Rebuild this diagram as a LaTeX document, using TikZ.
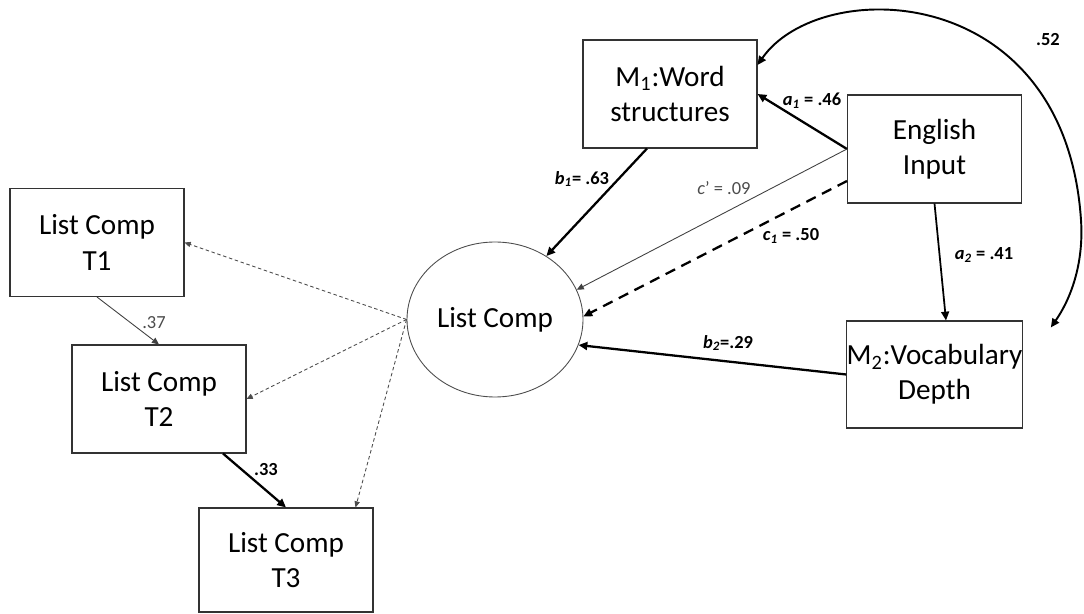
\documentclass[tikz,border=0pt]{standalone}
\usepackage{fontspec}
\setmainfont{Carlito}
\usetikzlibrary{calc}
\usetikzlibrary{shapes}
\usetikzlibrary{arrows.meta}

\tikzset{
  box/.style={draw=black!80, line width=0.6pt, minimum width=3.48cm, minimum height=2.16cm,
    inner sep=0pt, align=center, font=\fontsize{16.6}{20}\selectfont},
  latent/.style={ellipse, draw=black!70, line width=0.5pt, minimum width=3.52cm, minimum height=3.1cm,
    inner sep=0pt, font=\fontsize{16.6}{20}\selectfont},
  strong/.style={-{Triangle[length=5pt,width=4.5pt]}, line width=1.3pt},
  weak/.style={-{Triangle[length=4pt,width=3.5pt]}, line width=0.5pt, black!75},
  dotpath/.style={-{Triangle[length=3.5pt,width=3pt]}, line width=0.5pt, black!70, dash pattern=on 2pt off 1.5pt},
  lab/.style={font=\fontsize{10.5}{12}\selectfont\bfseries},
  thinlab/.style={font=\fontsize{10.5}{12}\selectfont, black!70}
}

\begin{document}
\begin{tikzpicture}
        \useasboundingbox (0,0) rectangle (21.68,-12.28);

        % boxes
        \node[box] (t1) at (1.94,-4.85) {List Comp\\T1};
        \node[box] (t2) at (3.18,-7.98) {List Comp\\T2};
        \node[box, minimum height=2.08cm] (t3) at (5.72,-11.2) {List Comp\\T3};
        \node[box] (m1) at (13.4,-1.88) {M\textsubscript{1}:Word\\structures};
        \node[box] (eng) at (18.69,-2.98) {English\\Input};
        \node[box, minimum height=2.14cm] (m2) at (18.69,-7.49) {M\textsubscript{2}:Vocabulary\\Depth};
        \node[latent] (lc) at (9.9,-6.39) {List Comp};

        % paths
        \draw[strong] (eng.west) -- (m1.east);
        \draw[strong] ([xshift=-0.46cm]m1.south) -- (lc.51);
        \draw[weak] (eng.west) -- (lc.20);
        \draw[strong, dashed, dash pattern=on 6pt off 4pt] ([yshift=-0.64cm]eng.west) -- (lc.2);
        \draw[strong, line width=1pt] (eng.south) -- ([xshift=0.23cm]m2.north);
        \draw[strong] (m2.west) -- (lc.-17);
        \draw[{Triangle[length=5pt,width=4.5pt]}-{Triangle[length=5pt,width=4.5pt]}, line width=1.1pt]
          ([yshift=0.58cm]m1.east) .. controls (16.4,0.5) and (21.3,0.4) .. (21.62,-4.4)
          .. controls (21.68,-5.3) and (21.4,-6.0) .. ([shift={(0.56,-0.14)}]m2.north east);

        \draw[dotpath] (lc.west) -- (t1.east);
        \draw[dotpath] (lc.west) -- (t2.east);
        \draw[dotpath] (lc.west) -- ([xshift=-0.36cm]t3.north east);
        \draw[weak] (t1.south) -- (t2.north);
        \draw[strong] ([xshift=1.28cm]t2.south) -- (t3.north);

        % labels
        \node[lab] (la1) at (16.24,-2.02) {\textit{a\textsubscript{1}} = .46};
        \node[lab] (lb1) at (11.64,-3.58) {\textit{b\textsubscript{1}}= .63};
        \node[thinlab] (lcp) at (14.48,-3.76) {\textit{c}' = .09};
        \node[lab] (lc1) at (15.82,-4.72) {\textit{c\textsubscript{1}} = .50};
        \node[lab] (la2) at (19.68,-5.1) {\textit{a\textsubscript{2}} = .41};
        \node[lab] (lb2) at (14.56,-6.86) {\textit{b\textsubscript{2}}=.29};
        \node[lab] (l52) at (20.96,-0.8) {.52};
        \node[thinlab] (l37) at (3.08,-6.46) {.37};
        \node[lab] (l33) at (5.32,-9.4) {.33};
\end{tikzpicture}
\end{document}
